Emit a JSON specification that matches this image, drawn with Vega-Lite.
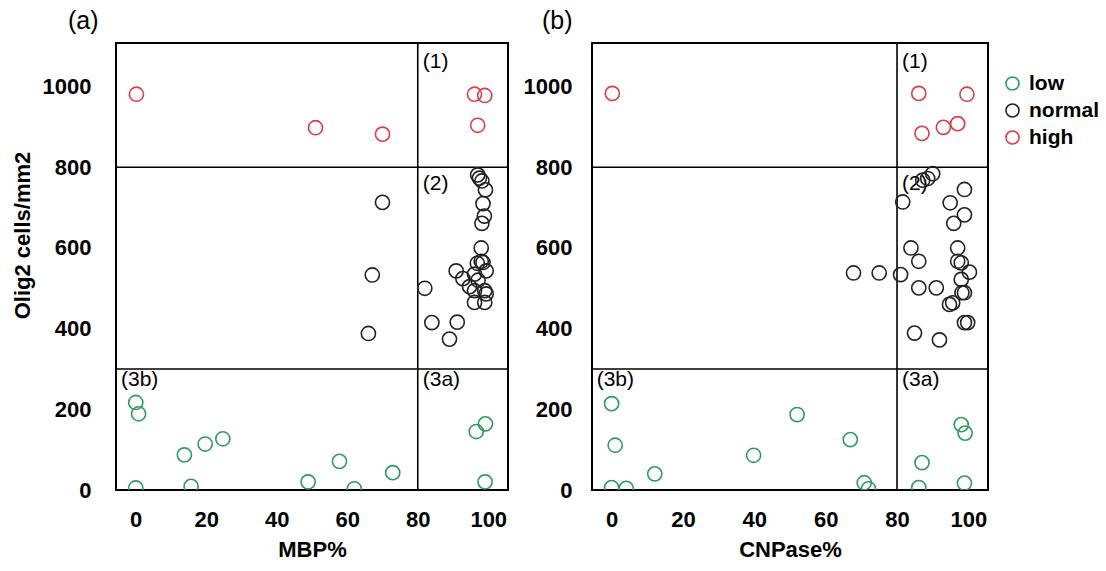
{
  "$schema": "https://vega.github.io/schema/vega-lite/v6.json",
  "padding": {"left": 10, "top": 8, "right": 5, "bottom": 5},
  "background": "white",
  "datasets": {
    "mbp": [
      {"x": 0.2, "y": 981, "level": "high"}, {"x": 51, "y": 898, "level": "high"}, {"x": 70, "y": 882, "level": "high"},
      {"x": 96.1, "y": 981, "level": "high"}, {"x": 99, "y": 978, "level": "high"}, {"x": 97, "y": 904, "level": "high"},
      {"x": 70, "y": 713, "level": "normal"}, {"x": 67.1, "y": 533, "level": "normal"}, {"x": 66, "y": 388, "level": "normal"},
      {"x": 82, "y": 500, "level": "normal"}, {"x": 84, "y": 415, "level": "normal"}, {"x": 91.2, "y": 416, "level": "normal"},
      {"x": 89, "y": 374, "level": "normal"}, {"x": 97, "y": 781, "level": "normal"}, {"x": 97.5, "y": 773, "level": "normal"},
      {"x": 98.2, "y": 766, "level": "normal"}, {"x": 99.2, "y": 744, "level": "normal"}, {"x": 98.5, "y": 710, "level": "normal"},
      {"x": 98.9, "y": 679, "level": "normal"}, {"x": 98.2, "y": 661, "level": "normal"}, {"x": 98, "y": 600, "level": "normal"},
      {"x": 98, "y": 567, "level": "normal"}, {"x": 96.9, "y": 562, "level": "normal"}, {"x": 98.5, "y": 564, "level": "normal"},
      {"x": 90.9, "y": 543, "level": "normal"}, {"x": 92.8, "y": 524, "level": "normal"}, {"x": 96.1, "y": 535, "level": "normal"},
      {"x": 99.4, "y": 543, "level": "normal"}, {"x": 97.1, "y": 520, "level": "normal"}, {"x": 94.7, "y": 504, "level": "normal"},
      {"x": 96.1, "y": 494, "level": "normal"}, {"x": 99, "y": 494, "level": "normal"}, {"x": 99.4, "y": 486, "level": "normal"},
      {"x": 96.1, "y": 465, "level": "normal"}, {"x": 99, "y": 465, "level": "normal"},
      {"x": 0, "y": 217, "level": "low"}, {"x": 0.8, "y": 189, "level": "low"}, {"x": 13.8, "y": 87, "level": "low"},
      {"x": 19.7, "y": 114, "level": "low"}, {"x": 24.7, "y": 127, "level": "low"}, {"x": 0, "y": 5, "level": "low"},
      {"x": 15.7, "y": 9, "level": "low"}, {"x": 48.9, "y": 20, "level": "low"}, {"x": 57.8, "y": 71, "level": "low"},
      {"x": 62, "y": 3, "level": "low"}, {"x": 72.9, "y": 43, "level": "low"}, {"x": 96.6, "y": 145, "level": "low"},
      {"x": 99.2, "y": 164, "level": "low"}, {"x": 99.1, "y": 20, "level": "low"}
    ],
    "cnp": [
      {"x": 0.2, "y": 983, "level": "high"}, {"x": 86.1, "y": 983, "level": "high"}, {"x": 99.6, "y": 981, "level": "high"},
      {"x": 87, "y": 884, "level": "high"}, {"x": 93, "y": 899, "level": "high"}, {"x": 97, "y": 908, "level": "high"},
      {"x": 90, "y": 784, "level": "normal"}, {"x": 88.6, "y": 772, "level": "normal"}, {"x": 87.2, "y": 768, "level": "normal"},
      {"x": 81.6, "y": 714, "level": "normal"}, {"x": 98.9, "y": 745, "level": "normal"}, {"x": 94.9, "y": 712, "level": "normal"},
      {"x": 98.9, "y": 682, "level": "normal"}, {"x": 95.9, "y": 661, "level": "normal"}, {"x": 83.9, "y": 600, "level": "normal"},
      {"x": 86.1, "y": 567, "level": "normal"}, {"x": 97, "y": 600, "level": "normal"}, {"x": 97, "y": 567, "level": "normal"},
      {"x": 98, "y": 563, "level": "normal"}, {"x": 100.3, "y": 540, "level": "normal"}, {"x": 67.8, "y": 538, "level": "normal"},
      {"x": 75, "y": 538, "level": "normal"}, {"x": 81, "y": 534, "level": "normal"}, {"x": 86.1, "y": 501, "level": "normal"},
      {"x": 91, "y": 501, "level": "normal"}, {"x": 98, "y": 522, "level": "normal"}, {"x": 98.2, "y": 489, "level": "normal"},
      {"x": 98.9, "y": 489, "level": "normal"}, {"x": 95.6, "y": 464, "level": "normal"}, {"x": 94.7, "y": 460, "level": "normal"},
      {"x": 98.9, "y": 415, "level": "normal"}, {"x": 99.8, "y": 415, "level": "normal"}, {"x": 84.9, "y": 389, "level": "normal"},
      {"x": 91.9, "y": 372, "level": "normal"},
      {"x": 0, "y": 214, "level": "low"}, {"x": 1, "y": 111, "level": "low"}, {"x": 0, "y": 6, "level": "low"},
      {"x": 4.1, "y": 4, "level": "low"}, {"x": 12.1, "y": 40, "level": "low"}, {"x": 39.8, "y": 86, "level": "low"},
      {"x": 52, "y": 187, "level": "low"}, {"x": 66.9, "y": 125, "level": "low"}, {"x": 70.8, "y": 18, "level": "low"},
      {"x": 72, "y": 3, "level": "low"}, {"x": 86.1, "y": 6, "level": "low"}, {"x": 87, "y": 68, "level": "low"},
      {"x": 98, "y": 162, "level": "low"}, {"x": 99.1, "y": 141, "level": "low"}, {"x": 98.9, "y": 17, "level": "low"}
    ],
    "regions": [
      {"x": 80, "y": 1060, "label": "(1)"},
      {"x": 80, "y": 758, "label": "(2)"},
      {"x": 80, "y": 273, "label": "(3a)"},
      {"x": -5.6, "y": 273, "label": "(3b)"}
    ],
    "hlines": [{"y": 800}, {"y": 300}],
    "vlines": [{"x": 80}]
  },
  "hconcat": [
    {
      "width": 392,
      "height": 447,
      "title": {"text": "(a)", "anchor": "start", "frame": "group", "dx": -48, "fontSize": 25, "fontWeight": "normal", "font": "Liberation Sans", "offset": 8},
      "layer": [
        {
          "data": {"name": "hlines"},
          "mark": {"type": "rule", "color": "black", "strokeWidth": 1.6},
          "encoding": {"y": {"field": "y", "type": "quantitative", "title": "Olig2 cells/mm2"}}
        },
        {
          "data": {"name": "vlines"},
          "mark": {"type": "rule", "color": "black", "strokeWidth": 1.6},
          "encoding": {"x": {"field": "x", "type": "quantitative", "title": "MBP%"}}
        },
        {
          "data": {"name": "regions"},
          "mark": {"type": "text", "align": "left", "baseline": "middle", "dx": 5, "fontSize": 21, "font": "Liberation Sans", "color": "black"},
          "encoding": {
            "x": {"field": "x", "type": "quantitative", "title": "MBP%"},
            "y": {"field": "y", "type": "quantitative", "title": "Olig2 cells/mm2"},
            "text": {"field": "label"}
          }
        },
        {
          "data": {"name": "mbp"},
          "mark": {"type": "point", "shape": "circle", "filled": false, "size": 200, "strokeWidth": 1.6, "clip": true, "opacity": 1},
          "encoding": {
            "x": {"field": "x", "type": "quantitative", "title": "MBP%",
                  "scale": {"domain": [-5.6, 105.6], "nice": false, "zero": false},
                  "axis": {"values": [0, 20, 40, 60, 80, 100], "format": "d"}},
            "y": {"field": "y", "type": "quantitative", "title": "Olig2 cells/mm2",
                  "scale": {"domain": [0, 1108], "nice": false},
                  "axis": {"values": [0, 200, 400, 600, 800, 1000], "format": "d", "titleY": 192, "labelPadding": 25}},
            "color": {"field": "level", "type": "nominal",
                      "scale": {"domain": ["low", "normal", "high"], "range": ["#2f9a62", "#222222", "#dd3b47"]},
                      "legend": {"title": null, "orient": "none", "legendX": 886, "legendY": 30}}
          }
        }
      ]
    },
    {
      "width": 396,
      "height": 447,
      "title": {"text": "(b)", "anchor": "start", "frame": "group", "dx": -50, "fontSize": 25, "fontWeight": "normal", "font": "Liberation Sans", "offset": 8},
      "layer": [
        {
          "data": {"name": "hlines"},
          "mark": {"type": "rule", "color": "black", "strokeWidth": 1.6},
          "encoding": {"y": {"field": "y", "type": "quantitative", "title": null}}
        },
        {
          "data": {"name": "vlines"},
          "mark": {"type": "rule", "color": "black", "strokeWidth": 1.6},
          "encoding": {"x": {"field": "x", "type": "quantitative", "title": "CNPase%"}}
        },
        {
          "data": {"name": "regions"},
          "mark": {"type": "text", "align": "left", "baseline": "middle", "dx": 5, "fontSize": 21, "font": "Liberation Sans", "color": "black"},
          "encoding": {
            "x": {"field": "x", "type": "quantitative", "title": "CNPase%"},
            "y": {"field": "y", "type": "quantitative", "title": null},
            "text": {"field": "label"}
          }
        },
        {
          "data": {"name": "cnp"},
          "mark": {"type": "point", "shape": "circle", "filled": false, "size": 200, "strokeWidth": 1.6, "clip": true, "opacity": 1},
          "encoding": {
            "x": {"field": "x", "type": "quantitative", "title": "CNPase%",
                  "scale": {"domain": [-5.5, 105.5], "nice": false, "zero": false},
                  "axis": {"values": [0, 20, 40, 60, 80, 100], "format": "d"}},
            "y": {"field": "y", "type": "quantitative", "title": null,
                  "scale": {"domain": [0, 1108], "nice": false},
                  "axis": {"values": [0, 200, 400, 600, 800, 1000], "format": "d", "labelPadding": 20}},
            "color": {"field": "level", "type": "nominal",
                      "scale": {"domain": ["low", "normal", "high"], "range": ["#2f9a62", "#222222", "#dd3b47"]},
                      "legend": {"title": null, "orient": "none", "legendX": 886, "legendY": 30}}
          }
        }
      ]
    }
  ],
  "spacing": 12,
  "config": {
    "font": "Liberation Sans",
    "view": {"stroke": "black", "strokeWidth": 2},
    "axis": {
      "domain": false, "ticks": false, "grid": false,
      "labelFont": "Liberation Sans", "labelFontSize": 22, "labelFontWeight": "bold", "labelColor": "black",
      "titleFont": "Liberation Sans", "titleFontSize": 22, "titleFontWeight": "bold", "titleColor": "black"
    },
    "axisX": {"labelPadding": 19, "titlePadding": 9},
    "axisY": {"titlePadding": 8},
    "legend": {
      "labelFont": "Liberation Sans", "labelFontSize": 21, "labelFontWeight": "bold", "labelColor": "black",
      "symbolSize": 170, "symbolStrokeWidth": 1.6, "symbolType": "circle", "symbolFillColor": "transparent",
      "rowPadding": 5, "labelOffset": 6
    }
  }
}
